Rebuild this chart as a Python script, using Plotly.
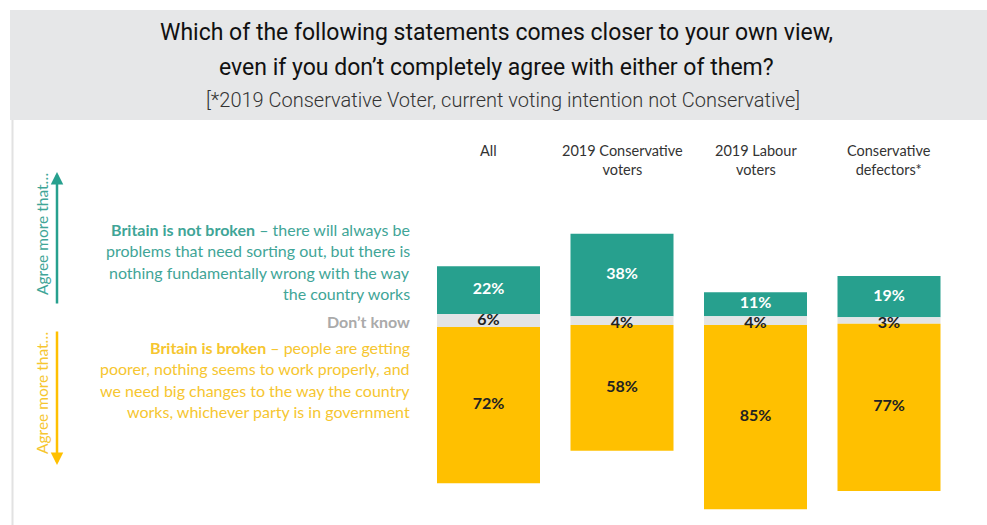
import plotly.graph_objects as go

categories = ["All", "2019 Conservative<br>voters", "2019 Labour<br>voters", "Conservative<br>defectors*"]
not_broken = [22, 38, 11, 19]
dont_know = [6, 4, 4, 3]
broken = [72, 58, 85, 77]

TEAL = "#27a08e"
YELLOW = "#ffc000"
GREY = "#e3e4e6"
W, H = 987, 525

xs = list(range(len(categories)))
half = [d / 2 for d in dont_know]

fig = go.Figure()
bw = 103 / 133.5
fig.add_trace(go.Bar(x=xs, y=not_broken, base=half, marker_color=TEAL, width=bw,
                     marker_line_width=0, hoverinfo="skip"))
fig.add_trace(go.Bar(x=xs, y=dont_know, base=[-h for h in half], marker_color=GREY, width=bw,
                     marker_line_width=0, hoverinfo="skip"))
fig.add_trace(go.Bar(x=xs, y=[-b for b in broken], base=[-h for h in half], marker_color=YELLOW,
                     width=bw, marker_line_width=0, hoverinfo="skip"))

lab_font = dict(family="Lato", size=16)
fig.add_trace(go.Scatter(x=xs, y=[h + v / 2 for h, v in zip(half, not_broken)], mode="text",
                         text=[f"<b>{v}%</b>" for v in not_broken],
                         textfont=dict(color="white", **lab_font), hoverinfo="skip"))
fig.add_trace(go.Scatter(x=xs, y=[-1.5 if d < 5 else 0 for d in dont_know], mode="text",
                         text=[f"<b>{v}%</b>" for v in dont_know],
                         textfont=dict(color="#222222", **lab_font), hoverinfo="skip"))
fig.add_trace(go.Scatter(x=xs, y=[-h - v / 2 for h, v in zip(half, broken)], mode="text",
                         text=[f"<b>{v}%</b>" for v in broken],
                         textfont=dict(color="#222222", **lab_font), hoverinfo="skip"))

# column headers
for x, c in zip(xs, categories):
    fig.add_annotation(x=x, xref="x", y=1 - 140 / H, yref="paper", yanchor="top",
                       text=c, showarrow=False, align="center",
                       font=dict(family="Lato", size=14.5, color="#333333"))

shapes = [
    dict(type="rect", xref="paper", yref="paper", x0=10 / W, x1=1, y0=1 - 120 / H, y1=1 - 10 / H,
         fillcolor="#e6e7e8", line_width=0, layer="below"),
    dict(type="line", xref="paper", yref="paper", x0=12.5 / W, x1=12.5 / W, y0=0, y1=1 - 120 / H,
         line=dict(color="#e2e2e2", width=2), layer="below"),
]
fig.update_layout(shapes=shapes)


def txt(x, y, s, size, color, family, anchor="center", angle=0, **kw):
    fig.add_annotation(x=x / W, y=1 - y / H, xref="paper", yref="paper", text=s, showarrow=False,
                       xanchor=anchor, yanchor="middle", textangle=angle,
                       font=dict(size=size, color=color, family=family, **kw))


title_font = "Roboto"
txt(497, 33, "Which of the following statements comes closer to your own view,", 23, "#111111", title_font, weight=400)
txt(497, 67, "even if you don\u2019t completely agree with either of them?", 23, "#111111", title_font, weight=400)
txt(503, 100, "[*2019 Conservative Voter, current voting intention not Conservative]", 20, "#333333", title_font, weight=300)

green_lines = ["<b>Britain is not broken</b> \u2013 there will always be",
               "problems that need sorting out, but there is",
               "nothing fundamentally wrong with the way",
               "the country works"]
for i, s in enumerate(green_lines):
    txt(412, 229 + i * 21.5, s, 16, "#3fa597", "Lato", anchor="right")
txt(412, 321, "<b>Don\u2019t know</b>", 16, "#aaaaaa", "Lato", anchor="right")
yellow_lines = ["<b>Britain is broken</b> \u2013 people are getting",
                "poorer, nothing seems to work properly, and",
                "we need big changes to the way the country",
                "works, whichever party is in government"]
for i, s in enumerate(yellow_lines):
    txt(412, 347 + i * 21.5, s, 16, "#f6c630", "Lato", anchor="right")

# side arrows
fig.add_annotation(x=57 / W, y=1 - 172 / H, xref="paper", yref="paper", ax=0, ay=133,
                   showarrow=True, arrowhead=2, arrowsize=1, arrowwidth=2.5, arrowcolor=TEAL, text="")
fig.add_annotation(x=57 / W, y=1 - 465 / H, xref="paper", yref="paper", ax=0, ay=-135,
                   showarrow=True, arrowhead=2, arrowsize=1, arrowwidth=2.5, arrowcolor=YELLOW, text="")
txt(42, 234, "Agree more that\u2026", 15.5, "#3fa597", "Lato", angle=-90)
txt(42, 393, "Agree more that\u2026", 15.5, "#f6c630", "Lato", angle=-90)

fig.update_layout(
    width=W, height=H, margin=dict(l=0, r=0, t=0, b=0),
    paper_bgcolor="white", plot_bgcolor="rgba(0,0,0,0)",
    barmode="overlay", showlegend=False, hovermode=False,
    xaxis=dict(range=[-488.5 / 133.5, (W - 488.5) / 133.5], visible=False, fixedrange=True),
    yaxis=dict(range=[-94.2, 147.7], visible=False, fixedrange=True),
)
fig.write_html("out.html")
